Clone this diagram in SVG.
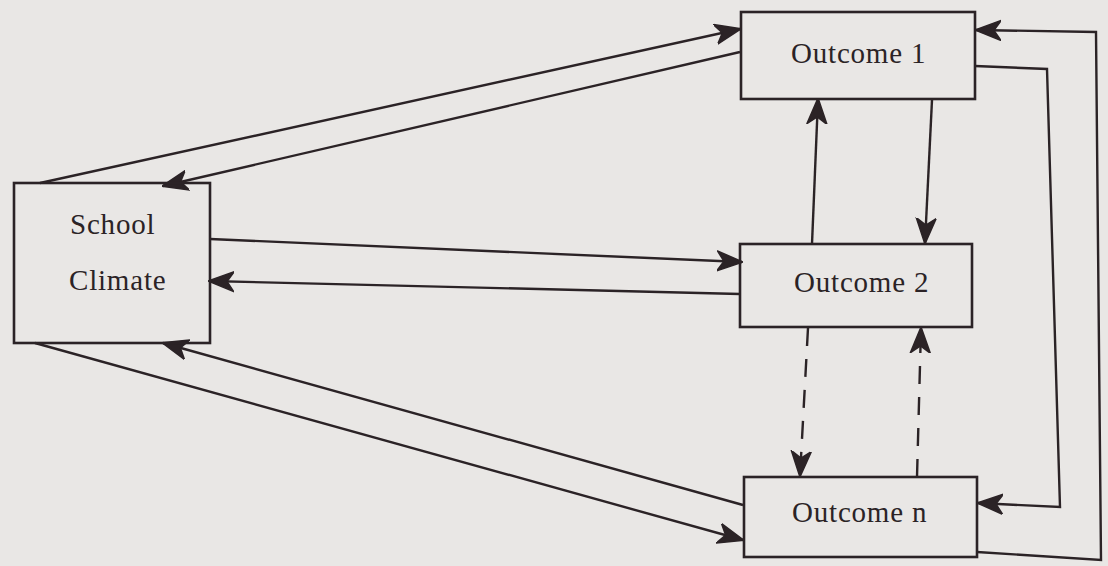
<svg xmlns="http://www.w3.org/2000/svg" width="1108" height="566" viewBox="0 0 1108 566">
<style>
.box{fill:none;stroke:#2b2326;stroke-width:2.6}
.ln{fill:none;stroke:#2b2326;stroke-width:2.4;marker-end:url(#ah)}
.dash{stroke-dasharray:18 13}
.t{font-family:"Liberation Serif","Times New Roman",serif;font-size:29px;fill:#2b2326;letter-spacing:0.8px}
</style>
<defs>
<marker id="ah" viewBox="0 0 26 22" refX="25" refY="11" markerWidth="26" markerHeight="22" markerUnits="userSpaceOnUse" orient="auto">
<path d="M26,11 L0,1 L7,11 L0,21 Z" fill="#2b2326" stroke="#2b2326" stroke-width="1.5" stroke-linejoin="round"/>
</marker>
</defs>
<rect width="1108" height="566" fill="#e9e7e5"/>
<g id="connectors">
<line class="ln" x1="40" y1="183" x2="740" y2="29"/>
<line class="ln" x1="740" y1="52" x2="163" y2="186"/>
<line class="ln" x1="210" y1="239" x2="742" y2="262"/>
<line class="ln" x1="740" y1="294" x2="209" y2="281"/>
<line class="ln" x1="35" y1="343" x2="743" y2="540"/>
<line class="ln" x1="743" y1="505" x2="163" y2="343"/>
<line class="ln" x1="812" y1="244" x2="818" y2="99"/>
<line class="ln" x1="932" y1="100" x2="925" y2="243"/>
<line class="ln dash" x1="808" y1="328" x2="800" y2="476"/>
<line class="ln dash" x1="917" y1="477" x2="921" y2="328"/>
<polyline class="ln" points="975,66 1047,69 1060,507 978,503"/>
<polyline class="ln" points="977,552 1101,560 1096,32 976,30"/>
</g>
<g id="school-climate">
<rect class="box" x="14" y="183" width="196" height="160"/>
<text class="t" x="70" y="234">School</text>
<text class="t" x="69" y="290">Climate</text>
</g>
<g id="outcome-1">
<rect class="box" x="741" y="12" width="234" height="87"/>
<text class="t" x="791" y="63">Outcome 1</text>
</g>
<g id="outcome-2">
<rect class="box" x="740" y="244" width="232" height="83"/>
<text class="t" x="794" y="292">Outcome 2</text>
</g>
<g id="outcome-n">
<rect class="box" x="744" y="477" width="233" height="80"/>
<text class="t" x="792" y="522">Outcome n</text>
</g>
</svg>
